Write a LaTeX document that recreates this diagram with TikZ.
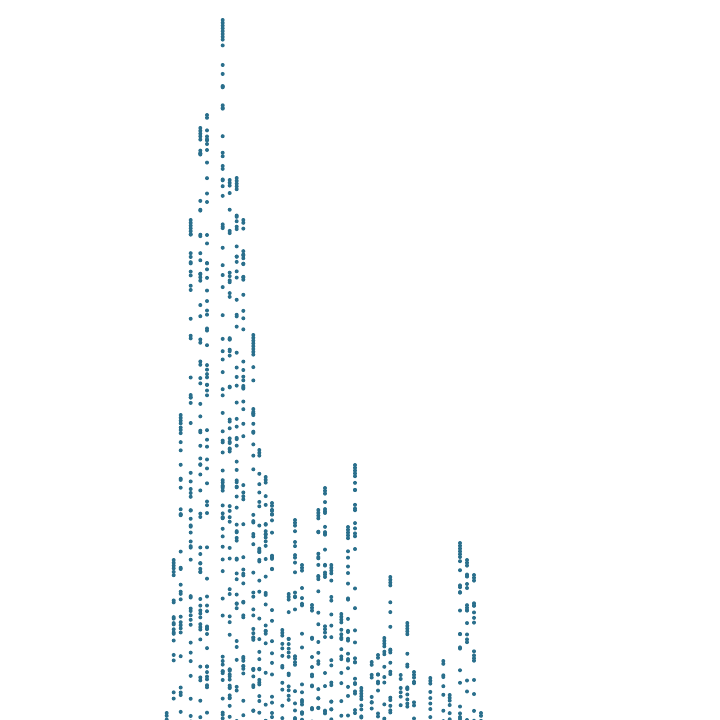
\documentclass[tikz,border=0pt]{standalone}
\definecolor{dotblue}{RGB}{42,111,140}
\tikzset{dotmark/.style={fill=dotblue}}
\begin{document}
\begin{tikzpicture}[x=1pt,y=-1pt]
\useasboundingbox (0,0) rectangle (720,720);
\clip (0,0) rectangle (720,720);
\pgfmathsetseed{4242}
\foreach \x/\t/\c in {166.7/713/2,173.7/560/4,180.7/415/4,190.7/220/5,200.3/128/4,207/115/2,222.7/20/8,229.7/180/3,236.7/178/5,243.3/220/2,253.3/335/8,259.3/450/3,265.7/477/3,272/503/2,282.3/630/3,288.7/594/3,295/520/3,302/565/3,312/605/3,318.3/510/4,325/488/3,331.3/565/4,341.3/614/4,348/527/5,355/465/5,361.3/688/5,371.7/662/2,378/655/2,384.3/638/4,390.3/577/4,400.7/675/1,407.3/623/5,414/672/3,430.3/678/3,443.3/661/2,449.7/695/3,460/543/6,467/560/3,474/575/3,481/713/2}{
  \foreach \i in {1,...,\c}{
    \fill[dotmark] (\x,\t+\i*2.8-2.8) circle (2pt);
  }
  \pgfmathtruncatemacro\n{int((720-\t)/10.5)+1}
  \foreach \i in {1,...,\n}{
    \pgfmathsetmacro\yy{\t+\c*2.8+rnd*(722-\t-\c*2.8)}
    \fill[dotmark] (\x,\yy) circle (2pt);
  }
}
\end{tikzpicture}
\end{document}
